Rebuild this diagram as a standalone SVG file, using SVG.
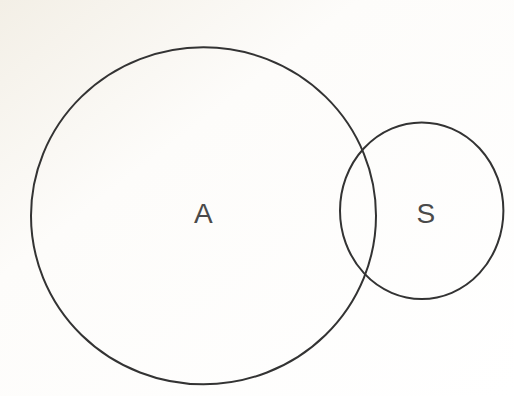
<svg xmlns="http://www.w3.org/2000/svg" width="514" height="396" viewBox="0 0 514 396">
<defs>
<style>
.c{fill:none;stroke:#333;stroke-width:2}
.t{font-family:"Liberation Sans",Arial,sans-serif;font-size:28px;fill:#4a4a4a;text-anchor:middle}
</style>
<linearGradient id="bg" x1="0" y1="0" x2="1" y2="1">
<stop offset="0" stop-color="#f3efe6"/>
<stop offset="0.35" stop-color="#fdfcfa"/>
<stop offset="1" stop-color="#ffffff"/>
</linearGradient>
</defs>
<rect width="514" height="396" fill="url(#bg)"/>
<g id="node-A">
<ellipse class="c" cx="203.5" cy="215.8" rx="172.5" ry="168.5"/>
<text class="t" x="203.3" y="223.3">A</text>
</g>
<g id="node-S">
<ellipse class="c" cx="421.7" cy="210.7" rx="81.7" ry="88.3"/>
<text class="t" x="425.8" y="223.3">S</text>
</g>
<g id="connectors"/>
</svg>
